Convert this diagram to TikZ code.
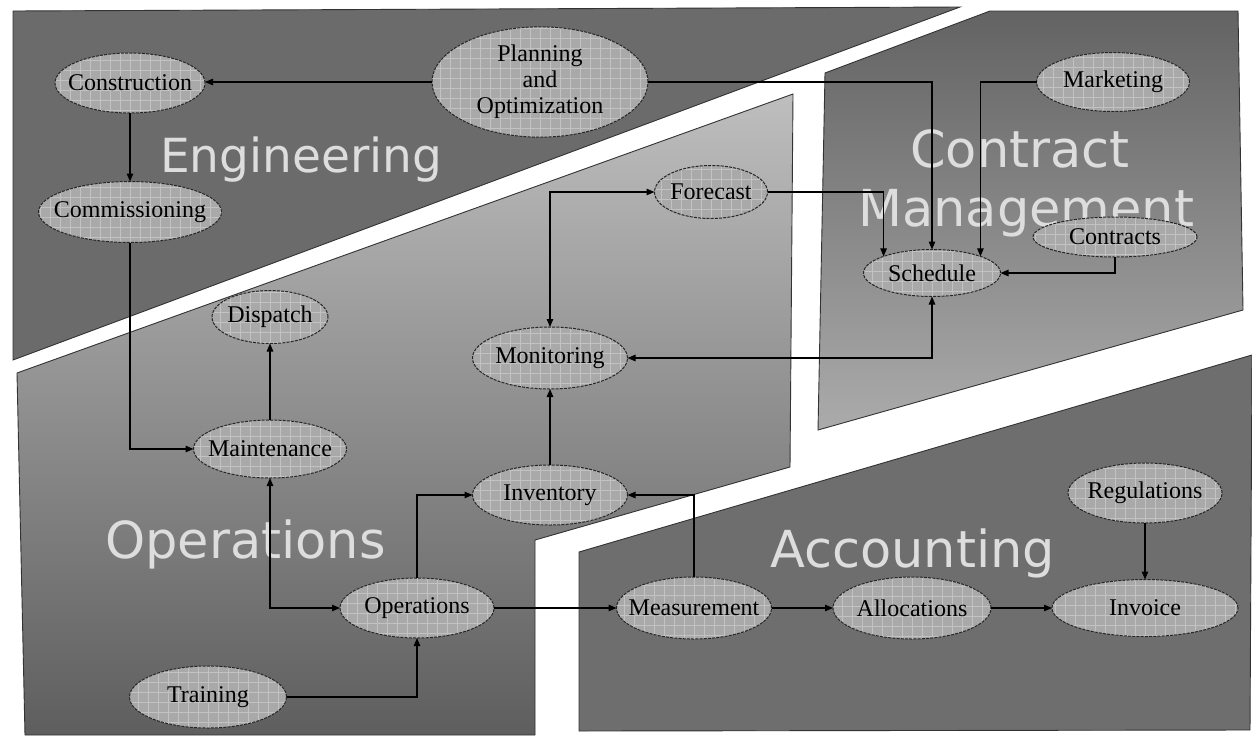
\documentclass[tikz,border=0pt]{standalone}
\usepackage{fontspec}
\setmainfont{Liberation Serif}
\newfontfamily\titlefont{DejaVu Sans}
\usetikzlibrary{shapes.geometric,arrows.meta}

\definecolor{engfill}{HTML}{6B6B6B}
\definecolor{accfill}{HTML}{6E6E6E}
\definecolor{opsdark}{HTML}{5E5E5E}
\definecolor{opslight}{HTML}{BEBEBE}
\definecolor{condark}{HTML}{636363}
\definecolor{conlight}{HTML}{ABABAB}
\definecolor{procfill}{HTML}{A9A9A9}
\definecolor{gridline}{HTML}{C2C2C2}
\definecolor{titlegray}{HTML}{DDDDDD}

\newcommand{\lbl}[1]{\makebox[0pt]{#1}}

\tikzset{
  panel/.style={draw=black!80, line width=0.9pt},
  proc/.style={ellipse, draw=black!85, line width=1pt,
    dash pattern=on 3pt off 1.2pt, fill=procfill,
    inner sep=0pt, outer sep=0pt,
    font=\fontsize{24}{26}\selectfont,
    path picture={\draw[solid, gridline, line width=0.8pt, step=10pt]
      (path picture bounding box.south west) grid
      (path picture bounding box.north east);}},
  title/.style={text=titlegray, inner sep=0pt, anchor=base west},
  arr/.style={draw=black, line width=1.1pt,
    -{Triangle[length=8pt,width=6.5pt]}},
  arrboth/.style={draw=black, line width=1.1pt,
    {Triangle[length=8pt,width=6.5pt]}-{Triangle[length=8pt,width=6.5pt]}}
}

\begin{document}
\begin{tikzpicture}[x=1pt, y=-1pt]
\useasboundingbox[fill=white] (0,0) rectangle (1252,745);

% --- department panels ---
\fill[engfill] (13,11) -- (960,7) -- (13,360) -- cycle;
\draw[panel] (13,11) -- (960,7) -- (13,360) -- cycle;

\shade[shading angle=-45, top color=opslight, bottom color=opsdark]
  (17,373) -- (793,94) -- (790,467) -- (535,540) -- (535,735) -- (25,735) -- cycle;
\draw[panel] (17,373) -- (793,94) -- (790,467) -- (535,540) -- (535,735) -- (25,735) -- cycle;

\shade[shading angle=-45, top color=condark, bottom color=conlight]
  (825,73) -- (990,11) -- (1238,11) -- (1243,310) -- (818,430) -- cycle;
\draw[panel] (825,73) -- (990,11) -- (1238,11) -- (1243,310) -- (818,430) -- cycle;

\fill[accfill] (579,552) -- (1252,355) -- (1250,730) -- (579,731) -- cycle;
\draw[panel] (579,552) -- (1252,355) -- (1250,730) -- (579,731) -- cycle;

% --- department titles ---
\node[title, font=\titlefont\fontsize{47}{50}\selectfont] (tEng) at (160,172) {Engineering};
\node[title, font=\titlefont\fontsize{51}{54}\selectfont] (tCon) at (910,167) {Contract};
\node[title, font=\titlefont\fontsize{51}{54}\selectfont] (tMan) at (858,226) {Management};
\node[title, font=\titlefont\fontsize{51}{54}\selectfont] (tOps) at (105,558) {Operations};
\node[title, font=\titlefont\fontsize{51}{54}\selectfont] (tAcc) at (770,567) {Accounting};

% --- process nodes ---
\node[proc, minimum width=150, minimum height=60] (constr) at (130,83) {\lbl{Construction}};
\node[proc, minimum width=183, minimum height=61] (comm) at (130,212) {\lbl{Commissioning}};
\node[proc, minimum width=216, minimum height=107] (plan) at (540,82)
  {\lbl{\begin{tabular}{@{}c@{}}Planning\\and\\Optimization\end{tabular}}};
\node[proc, minimum width=116, minimum height=53] (disp) at (270,317) {\lbl{Dispatch}};
\node[proc, minimum width=153, minimum height=58] (maint) at (270,449) {\lbl{Maintenance}};
\node[proc, minimum width=155, minimum height=62] (mon) at (550,358) {\lbl{Monitoring}};
\node[proc, minimum width=113, minimum height=53] (fore) at (711,192) {\lbl{Forecast}};
\node[proc, minimum width=155, minimum height=60] (inv) at (550,495) {\lbl{Inventory}};
\node[proc, minimum width=154, minimum height=60] (ops) at (417,608) {\lbl{Operations}};
\node[proc, minimum width=157, minimum height=62] (train) at (208,697) {\lbl{Training}};
\node[proc, minimum width=155, minimum height=62] (meas) at (694,608) {\lbl{Measurement}};
\node[proc, minimum width=158, minimum height=62] (alloc) at (912,608) {\lbl{Allocations}};
\node[proc, minimum width=186, minimum height=57] (invc) at (1145,608) {\lbl{Invoice}};
\node[proc, minimum width=154, minimum height=60] (reg) at (1145,493) {\lbl{Regulations}};
\node[proc, minimum width=137, minimum height=47] (sched) at (932,273) {\lbl{Schedule}};
\node[proc, minimum width=153, minimum height=59] (mkt) at (1113,82) {\lbl{Marketing}};
\node[proc, minimum width=164, minimum height=40] (contr) at (1115,237) {\lbl{Contracts}};

% --- connectors ---
\draw[arr] (plan.west) -- (plan.west -| constr.east);
\draw[arr] (constr.south) -- (comm.north);
\draw[arr] (comm.south) |- (maint.west);
\draw[arr] (maint.north) -- (disp.south);
\draw[arrboth] (maint.south) |- (ops.west);
\draw[arr] (plan.east) -| (sched.north);
\draw[arr] (fore.east) -| (sched.north west);
\draw[arr] (mkt.west) -| (sched.north east);
\draw[arr] (contr.south) |- (sched.east);
\draw[arrboth] (mon.east) -| (sched.south);
\draw[arrboth] (mon.north) |- (fore.west);
\draw[arr] (inv.north) -- (mon.south);
\draw[arr] (ops.north) |- (inv.west);
\draw[arr] (meas.north) |- (inv.east);
\draw[arr] (ops.east) -- (meas.west);
\draw[arr] (train.east) -| (ops.south);
\draw[arr] (meas.east) -- (alloc.west);
\draw[arr] (alloc.east) -- (invc.west);
\draw[arr] (reg.south) -- (invc.north);
\end{tikzpicture}
\end{document}
